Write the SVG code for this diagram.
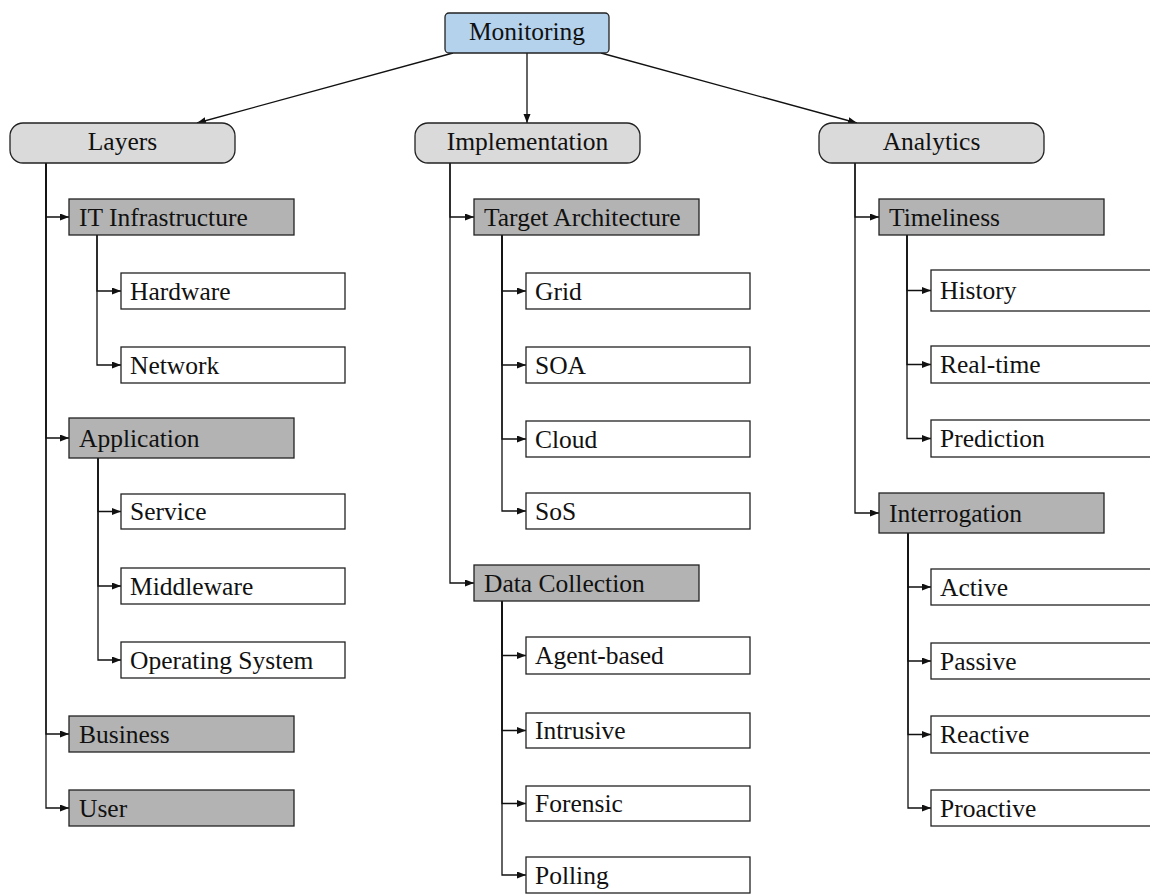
<svg xmlns="http://www.w3.org/2000/svg" width="1150" height="896" viewBox="0 0 1150 896">
  <style>
    .t text { font-size: 25.5px; fill: #111; }
    .c { text-anchor: middle; }
    .root { fill: #b4d2ec; stroke: #222; stroke-width: 1.3; }
    .cat { fill: #dadada; stroke: #222; stroke-width: 1.3; }
    .sub { fill: #b3b3b3; stroke: #222; stroke-width: 1.3; }
    .leaf { fill: #ffffff; stroke: #222; stroke-width: 1.3; }
    .edge { fill: none; stroke: #111; stroke-width: 1.3; marker-end: url(#arr); }
  </style>
  <defs>
    <marker id="arr" markerUnits="userSpaceOnUse" markerWidth="10" markerHeight="8" refX="9" refY="3.5" orient="auto">
      <path d="M0,0 L9,3.5 L0,7 z" fill="#111"/>
    </marker>
  </defs>
  <rect width="1150" height="896" fill="#ffffff"/>

  <!-- connectors -->
  <g id="connectors">
    <path class="edge" d="M453,53 L197,123"/>
    <path class="edge" d="M527,53 L527,123"/>
    <path class="edge" d="M601,53 L857,123"/>

    <!-- Layers -->
    <path class="edge" d="M46,163 V217 H69"/>
    <path class="edge" d="M46,163 V438 H69"/>
    <path class="edge" d="M46,163 V734 H69"/>
    <path class="edge" d="M46,163 V808 H69"/>
    <path class="edge" d="M97,235 V291 H121"/>
    <path class="edge" d="M97,235 V365 H121"/>
    <path class="edge" d="M98,458 V511.5 H121"/>
    <path class="edge" d="M98,458 V586 H121"/>
    <path class="edge" d="M98,458 V660 H121"/>

    <!-- Implementation -->
    <path class="edge" d="M450,163 V217 H474"/>
    <path class="edge" d="M450,163 V583 H474"/>
    <path class="edge" d="M502,235 V291 H526"/>
    <path class="edge" d="M502,235 V365 H526"/>
    <path class="edge" d="M502,235 V439 H526"/>
    <path class="edge" d="M502,235 V511 H526"/>
    <path class="edge" d="M502,601 V655.5 H526"/>
    <path class="edge" d="M502,601 V730.5 H526"/>
    <path class="edge" d="M502,601 V803.5 H526"/>
    <path class="edge" d="M502,601 V875 H526"/>

    <!-- Analytics -->
    <path class="edge" d="M855,163 V217 H879"/>
    <path class="edge" d="M855,163 V513 H879"/>
    <path class="edge" d="M907,235 V290.5 H931"/>
    <path class="edge" d="M907,235 V364.5 H931"/>
    <path class="edge" d="M907,235 V438.5 H931"/>
    <path class="edge" d="M908,533 V587 H931"/>
    <path class="edge" d="M908,533 V661 H931"/>
    <path class="edge" d="M908,533 V734.5 H931"/>
    <path class="edge" d="M908,533 V808 H931"/>
  </g>

  <g class="t" font-family="'Liberation Serif', Tinos, 'Times New Roman', serif">
  <!-- root -->
  <g id="monitoring">
    <rect class="root" x="445" y="13" width="164" height="40" rx="4"/>
    <text class="c" x="527" y="40">Monitoring</text>
  </g>

  <!-- categories -->
  <g id="layers">
    <rect class="cat" x="10" y="123" width="225" height="40" rx="13"/>
    <text class="c" x="122.5" y="150">Layers</text>
  </g>
  <g id="implementation">
    <rect class="cat" x="415" y="123" width="225" height="40" rx="13"/>
    <text class="c" x="527.5" y="150">Implementation</text>
  </g>
  <g id="analytics">
    <rect class="cat" x="819" y="123" width="225" height="40" rx="13"/>
    <text class="c" x="931.5" y="150">Analytics</text>
  </g>

  <!-- Layers branch -->
  <g id="it-infrastructure"><rect class="sub" x="69" y="199" width="225" height="36"/><text x="79" y="225.5">IT Infrastructure</text></g>
  <g id="hardware"><rect class="leaf" x="121" y="273" width="224" height="36"/><text x="130" y="299.5">Hardware</text></g>
  <g id="network"><rect class="leaf" x="121" y="347" width="224" height="36"/><text x="130" y="373.5">Network</text></g>
  <g id="application"><rect class="sub" x="69" y="418" width="225" height="40"/><text x="79" y="446.5">Application</text></g>
  <g id="service"><rect class="leaf" x="121" y="494" width="224" height="35"/><text x="130" y="520">Service</text></g>
  <g id="middleware"><rect class="leaf" x="121" y="568" width="224" height="36"/><text x="130" y="594.5">Middleware</text></g>
  <g id="operating-system"><rect class="leaf" x="121" y="642" width="224" height="36"/><text x="130" y="668.5">Operating System</text></g>
  <g id="business"><rect class="sub" x="69" y="716" width="225" height="36"/><text x="79" y="742.5">Business</text></g>
  <g id="user"><rect class="sub" x="69" y="790" width="225" height="36"/><text x="79" y="816.5">User</text></g>

  <!-- Implementation branch -->
  <g id="target-architecture"><rect class="sub" x="474" y="199" width="225" height="36"/><text x="484" y="225.5">Target Architecture</text></g>
  <g id="grid"><rect class="leaf" x="526" y="273" width="224" height="36"/><text x="535" y="299.5">Grid</text></g>
  <g id="soa"><rect class="leaf" x="526" y="347" width="224" height="36"/><text x="535" y="373.5">SOA</text></g>
  <g id="cloud"><rect class="leaf" x="526" y="421" width="224" height="36"/><text x="535" y="447.5">Cloud</text></g>
  <g id="sos"><rect class="leaf" x="526" y="493" width="224" height="36"/><text x="535" y="519.5">SoS</text></g>
  <g id="data-collection"><rect class="sub" x="474" y="565" width="225" height="36"/><text x="484" y="591.5">Data Collection</text></g>
  <g id="agent-based"><rect class="leaf" x="526" y="637" width="224" height="37"/><text x="535" y="664">Agent-based</text></g>
  <g id="intrusive"><rect class="leaf" x="526" y="713" width="224" height="35"/><text x="535" y="739">Intrusive</text></g>
  <g id="forensic"><rect class="leaf" x="526" y="786" width="224" height="35"/><text x="535" y="812">Forensic</text></g>
  <g id="polling"><rect class="leaf" x="526" y="857" width="224" height="36"/><text x="535" y="883.5">Polling</text></g>

  <!-- Analytics branch -->
  <g id="timeliness"><rect class="sub" x="879" y="199" width="225" height="36"/><text x="889" y="225.5">Timeliness</text></g>
  <g id="history"><rect class="leaf" x="931" y="270" width="224" height="41"/><text x="940" y="299">History</text></g>
  <g id="real-time"><rect class="leaf" x="931" y="346" width="224" height="37"/><text x="940" y="373">Real-time</text></g>
  <g id="prediction"><rect class="leaf" x="931" y="420" width="224" height="37"/><text x="940" y="447">Prediction</text></g>
  <g id="interrogation"><rect class="sub" x="879" y="493" width="225" height="40"/><text x="889" y="521.5">Interrogation</text></g>
  <g id="active"><rect class="leaf" x="931" y="569" width="224" height="36"/><text x="940" y="595.5">Active</text></g>
  <g id="passive"><rect class="leaf" x="931" y="643" width="224" height="36"/><text x="940" y="669.5">Passive</text></g>
  <g id="reactive"><rect class="leaf" x="931" y="716" width="224" height="37"/><text x="940" y="743">Reactive</text></g>
  <g id="proactive"><rect class="leaf" x="931" y="790" width="224" height="36"/><text x="940" y="816.5">Proactive</text></g>
  </g>
</svg>
